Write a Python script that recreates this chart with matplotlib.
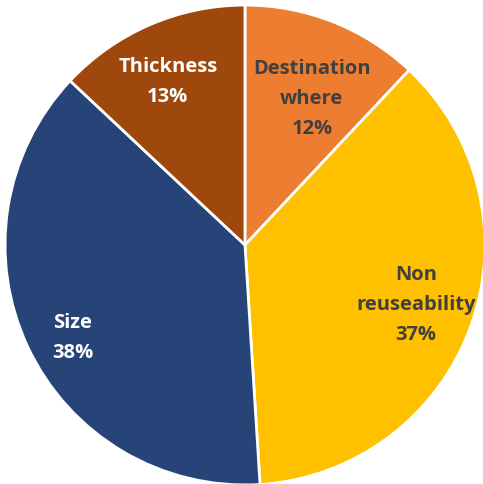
import matplotlib.pyplot as plt
import numpy as np

labels = ['Destination\nwhere', 'Non\nreuseability', 'Size', 'Thickness']
shares = [12, 37, 38, 13]
colors = ['#ED7D31', '#FFC000', '#264478', '#9E480E']
text_colors = ['#404040', '#404040', 'white', 'white']
# label placement: distance from centre and angular nudge (deg) off the wedge middle
label_radius = [0.67, 0.755, 0.815, 0.75]
label_shift = [-3.0, 0.5, 3.2, 2.0]

fig = plt.figure(figsize=(4.83, 4.84), dpi=100)
ax = fig.add_axes([0, 0, 1, 1])
wedges, _ = ax.pie(shares, colors=colors, startangle=90, counterclock=False,
                   wedgeprops=dict(edgecolor='white', linewidth=2))
ax.set_xlim(-1.021, 0.992)
ax.set_ylim(-0.996, 1.021)
ax.set_aspect('equal')

for w, lab, val, tc, r, d in zip(wedges, labels, shares, text_colors, label_radius, label_shift):
    mid = np.deg2rad((w.theta1 + w.theta2) / 2 + d)
    ax.text(r * np.cos(mid), r * np.sin(mid), f'{lab}\n{val}%', ha='center', va='center',
            color=tc, fontsize=14.5, fontweight='bold', family='Open Sans', linespacing=1.67)

fig.savefig('out.png', dpi=100, facecolor='white')
